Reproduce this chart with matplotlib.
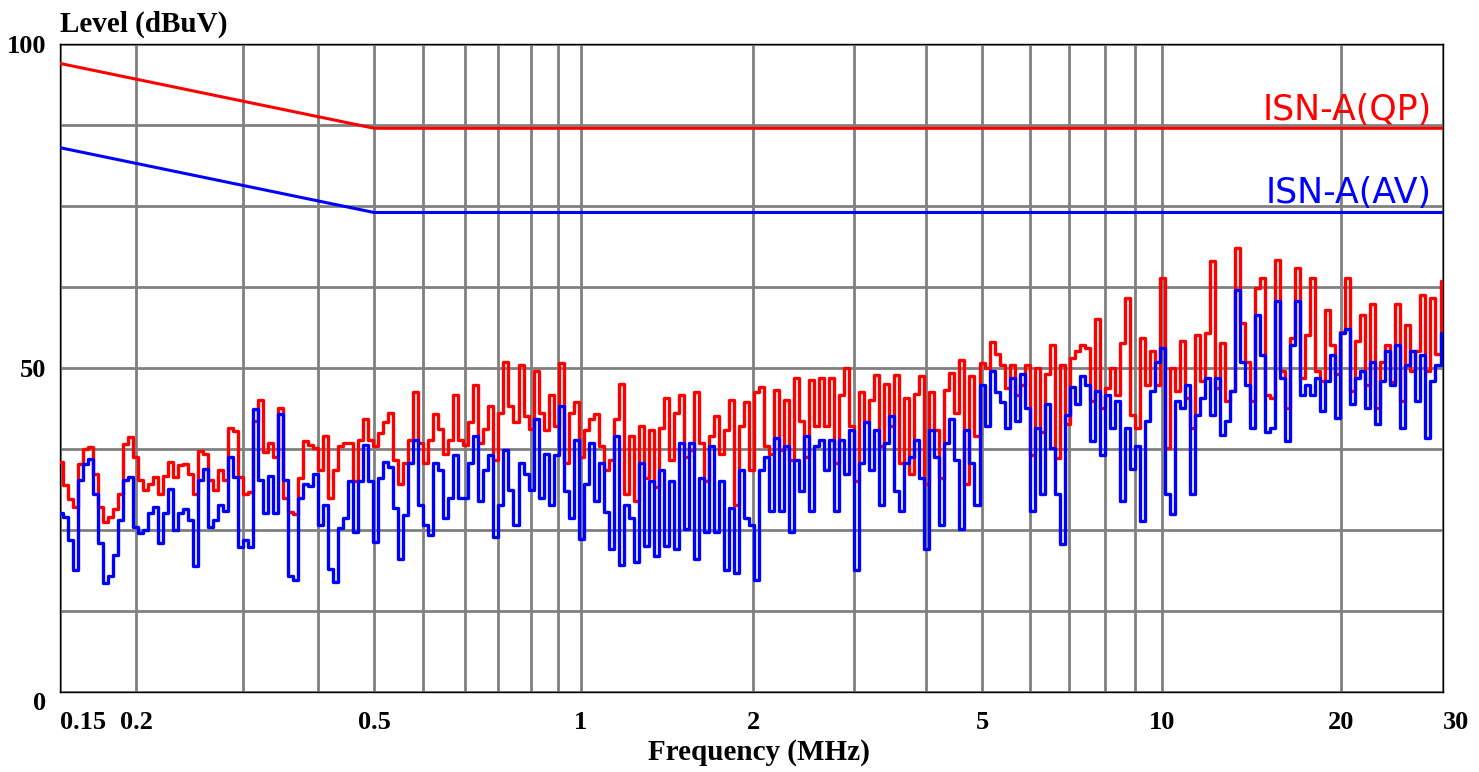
import matplotlib
matplotlib.use("Agg")
import matplotlib.pyplot as plt
import numpy as np
from matplotlib.ticker import NullLocator

# Limit lines (dBuV) at their corner frequencies (MHz)
LIMIT_FREQ = [0.15, 0.5, 30]
QP_LIMIT = [97, 87, 87]
AV_LIMIT = [84, 74, 74]

QP_TRACE = [
    35.5, 32, 29.8, 28.6, 35.2, 37.5, 37.8, 33.7, 28.6, 26.3, 27, 28.3, 30.6, 38.3, 39.3, 36.2,
    32.7, 31.1, 32.1, 33.2, 30.6, 33.4, 35.5, 33.2, 35, 35.2, 33.7, 30.6, 37.2, 36.7, 32.7, 31.1,
    34.2, 32.7, 40.8, 40.3, 33.2, 30.6, 30.9, 41.8, 45, 37, 38.5, 36.2, 43.9, 30, 27.8,
    27.4, 33.1, 38.7, 38.1, 37.6, 34.2, 39.5, 30, 34.2, 37.9, 38.4, 38.4, 32.6, 38.9, 42.1, 38.9,
    37.9, 40, 41.6, 43.1, 35.8, 32.1, 35.3, 38.9, 46.3, 38.4, 35.3, 38.9, 42.9, 40.6, 36.8, 38.9,
    45.8, 38.9, 38.1, 41.6, 47.4, 38.4, 40.6, 44.2, 35.8, 43.1, 51, 44.2, 41.6, 50.5, 42.6, 40.6,
    49.5, 43.1, 40.5, 45.8, 41, 50.8, 35.3, 43.1, 44.7, 36.3, 40.5, 42.1, 42.9, 37.9, 34.2, 35.8,
    42.1, 47.6, 30.5, 39.5, 29.4, 41, 33.1, 40.5, 31.6, 40.8, 45.3, 35.8, 43.1, 45.8, 36.3, 37.4,
    46.3, 38.4, 32.6, 39.5, 42.6, 36.8, 40.5, 45, 28.9, 41, 44.7, 34.2, 46.3, 47.1, 37.9,
    36.8, 46.6, 37.4, 45, 35.8, 48.4, 41.8, 36.3, 48.2, 41, 48.4, 41, 48.4, 35.3, 45.8, 50,
    41, 32.6, 46.3, 41.6, 45, 48.9, 37.9, 47.6, 41, 48.9, 35.3, 45.3, 33.7, 46, 48.7, 32.1,
    46.3, 40.5, 33.1, 46.6, 49.2, 43.1, 51.3, 32.1, 48.7, 39.5, 50.8, 50, 54, 52.2, 50.5,
    46.9, 50.5, 45.9, 47.4, 50.5, 36.6, 50, 40.2, 49, 53.6, 36.1, 50.5, 41.3, 51.5, 52.6, 53.6,
    53.1, 44.9, 57.5, 43.8, 46.9, 50, 45.9, 53.9, 60.8, 42.8, 40.8, 54.6, 47.4, 52.6, 47.4, 63.9,
    37.7, 50, 46.4, 54.1, 45.4, 40.8, 55.1, 48, 55.4, 66.5, 46.9, 53.9, 44.9, 46.4, 68.5,
    57, 51, 44.9, 62.3, 63.9, 45.9, 45.4, 66.7, 49.5, 43.8, 54.6, 65.4, 48.5, 55.1, 63.9, 49.5,
    48, 59, 53.6, 49, 55.6, 63.9, 46.4, 54.1, 58.2, 47.4, 59.8, 43.8, 50.9, 53.6, 47.9, 59.8,
    44.9, 56.7, 49.5, 52.6, 61.3, 49.5, 60.8, 52.2, 63.4,
]
AV_TRACE = [
    27.6, 27, 23.5, 18.9, 32.7, 35.2, 36, 30.6, 23, 16.8, 17.9, 21.2, 26.5, 32.7, 33.2, 25.5,
    24.5, 25, 27.6, 28.6, 23, 27.6, 31.4, 25, 27.6, 28.3, 26.5, 19.4, 32.7, 34.4, 25.5, 26.5,
    28.8, 28, 36.2, 33.2, 22.4, 23.5, 22.4, 43.6, 32.7, 27.6, 33.4, 27.6, 42.9, 32.7, 17.9,
    17.3, 30, 32.1, 31.8, 33.7, 25.8, 28.9, 19, 17, 25.3, 26.8, 32.6, 24.7, 32.6, 38.1, 32.6,
    23.2, 33.1, 35.5, 34.7, 28.4, 20.5, 27.3, 35.3, 38.9, 28.9, 25.8, 24.2, 35.3, 34.2, 26.8, 30,
    36.6, 30, 30, 35.3, 39.5, 29.5, 34.2, 36.6, 23.9, 28.9, 37.4, 31.1, 25.8, 35.3, 33.7, 31.1,
    42.1, 30, 36.8, 28.9, 36.6, 44.2, 31, 26.8, 38.9, 23.6, 32.1, 38.4, 29.4, 35.3, 27.8, 22.1,
    39.5, 19.6, 28.9, 26.8, 20, 35.3, 22.6, 32.6, 21, 34.2, 22.6, 32.6, 22.1, 38.4, 25.2, 38.4,
    20.5, 33.1, 24.7, 37.9, 24.7, 32.6, 18.9, 28.4, 18.4, 34.2, 26.8, 25.8, 17.3, 34.2, 36.3,
    27.9, 39.2, 27.9, 37.9, 24.7, 35.8, 31, 39.5, 27.9, 37.9, 38.9, 34.2, 38.9, 27.9, 38.9, 33.7,
    40.5, 18.9, 35.3, 41.6, 34.2, 40.5, 28.9, 38.4, 42.6, 31, 27.9, 35.3, 36.3, 38.9, 33.1, 22.1,
    40.5, 36.3, 25.8, 38.4, 42.1, 35.8, 25.2, 40.5, 35.3, 28.9, 47.4, 41, 49.5, 46.3, 44.7,
    40.7, 48.5, 41.8, 49, 43.8, 27.9, 40.7, 30.5, 44.4, 37.7, 30.5, 22.8, 42.8, 47, 44.4, 48.7,
    47.4, 38.7, 46.4, 36.6, 45.9, 40.7, 44.9, 29.5, 40.7, 34.4, 37.9, 26.4, 41.8, 46.4, 51, 53.1,
    30.5, 27.4, 44.9, 43.8, 47.4, 30.5, 42.8, 45.4, 48.5, 42.8, 48.5, 39.7, 41.8, 46.4, 62,
    51, 47.4, 40.7, 58.2, 52, 40.2, 40.7, 60.3, 48.5, 38.7, 53.6, 60.3, 45.9, 47.4, 45.9, 48.5,
    43.3, 48, 52, 42.3, 55.4, 56, 44.4, 48.5, 49.5, 43.8, 51, 41.3, 48, 52.6, 47.4, 53.6,
    40.7, 50.5, 52.6, 44.9, 52, 39.2, 48, 50.5, 55.4,
]

# Frequency grid of the original display; it is a stitched log axis, so each
# grid line gets the axis fraction it sits at in the original.
X_GRID = [0.15, 0.2, 0.3, 0.4, 0.5, 0.6, 0.7, 0.8, 0.9, 0.95, 1,
          2, 3, 4, 5, 6, 7, 8, 9, 10, 20, 30]
X_GRID_FRAC = [0.0, 0.0550, 0.1323, 0.1866, 0.2271, 0.2625, 0.2928, 0.3167, 0.3406,
               0.3601, 0.3767, 0.5011, 0.5741, 0.6262, 0.6667, 0.7014, 0.7296,
               0.7556, 0.7773, 0.7968, 0.9262, 1.0]
X_LABELED = {0.15: "0.15", 0.2: "0.2", 0.5: "0.5", 1: "1", 2: "2", 5: "5",
             10: "10", 20: "20", 30: "30"}
Y_GRID = [0, 12.5, 25, 37.5, 50, 62.5, 75, 87.5, 100]
Y_LABELED = {0: "0", 50: "50", 100: "100"}

W, H = 1479, 772
SERIF = "Liberation Serif"

LOG_GRID = np.log10(X_GRID)


def fwd(f):
    f = np.clip(np.asarray(f, dtype=float), 1e-6, None)
    return np.interp(np.log10(f), LOG_GRID, X_GRID_FRAC)


def inv(p):
    return 10 ** np.interp(np.asarray(p, dtype=float), X_GRID_FRAC, LOG_GRID)


fig = plt.figure(figsize=(W / 100, H / 100), dpi=100)
ax = fig.add_axes([60 / W, 80 / H, 1383 / W, 648 / H])
ax.set_xscale("function", functions=(fwd, inv))
ax.set_xlim(0.15, 30)
ax.set_ylim(0, 100)

# sweep points sit evenly along the displayed axis
freq = inv(np.linspace(0, 1, len(QP_TRACE)))
ax.plot(freq, QP_TRACE, color="#ff0000", lw=2.4, drawstyle="steps-mid", zorder=3)
ax.plot(freq, AV_TRACE, color="#0000ff", lw=2.4, drawstyle="steps-mid", zorder=4)

ax.plot(LIMIT_FREQ, QP_LIMIT, color="#ff0000", lw=2.2, zorder=5)
ax.plot(LIMIT_FREQ, AV_LIMIT, color="#0000ff", lw=2.2, zorder=5)

ax.xaxis.set_minor_locator(NullLocator())
ax.yaxis.set_minor_locator(NullLocator())
ax.set_xticks(X_GRID)
ax.set_xticklabels([X_LABELED.get(v, "") for v in X_GRID])
ax.set_yticks(Y_GRID)
ax.set_yticklabels([Y_LABELED.get(v, "") for v in Y_GRID])
ax.grid(True, color="#808080", lw=2.0)
ax.set_axisbelow(True)
ax.tick_params(length=0)
ax.tick_params(axis="x", pad=14)
ax.tick_params(axis="y", pad=10)

for lab in ax.get_xticklabels():
    lab.set_fontfamily(SERIF)
    lab.set_fontweight("bold")
    lab.set_fontsize(19)
    if lab.get_text() in ("0.15", "30"):
        lab.set_horizontalalignment("left")
for lab in ax.get_yticklabels():
    lab.set_fontfamily(SERIF)
    lab.set_fontweight("bold")
    lab.set_fontsize(19)
    if lab.get_text() == "0":
        lab.set_verticalalignment("top")

for sp in ax.spines.values():
    sp.set_color("black")
    sp.set_linewidth(1.0)

ax.text(0.992, 89.8, "ISN-A(QP)", transform=ax.get_yaxis_transform(),
        ha="right", va="center", color="#ff0000", fontsize=25)
ax.text(0.992, 77.0, "ISN-A(AV)", transform=ax.get_yaxis_transform(),
        ha="right", va="center", color="#0000ff", fontsize=25)

fig.text(60 / W, 1 - 24 / H, "Level (dBuV)", family=SERIF, weight="bold",
         fontsize=21, ha="left", va="center")
fig.text(759 / W, 1 - 752 / H, "Frequency (MHz)", family=SERIF, weight="bold",
         fontsize=21, ha="center", va="center")

fig.savefig("out.png", dpi=100)
